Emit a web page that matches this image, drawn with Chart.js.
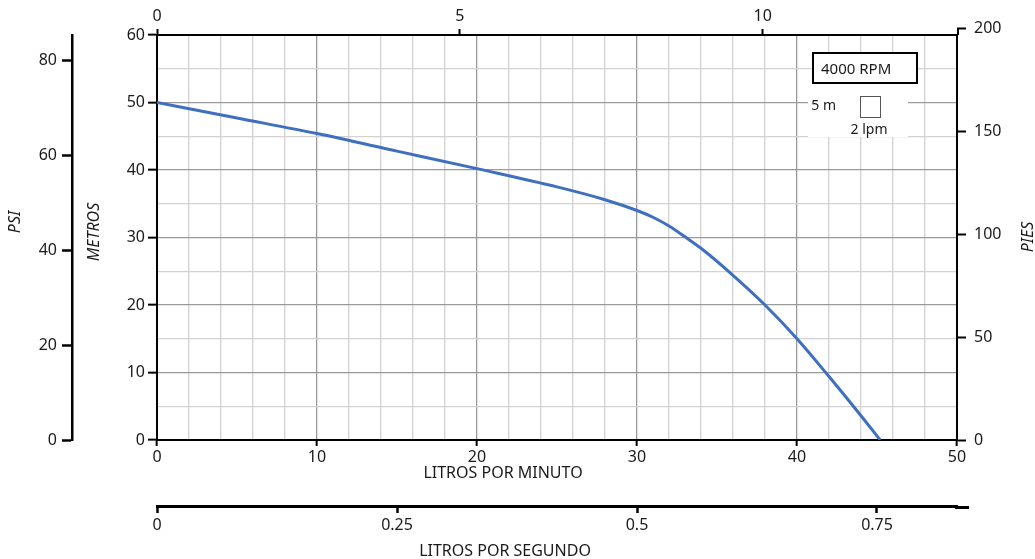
<!DOCTYPE html>
<html>
<head>
<meta charset="utf-8">
<script src="https://cdn.jsdelivr.net/npm/chart.js@4.4.1/dist/chart.umd.min.js"></script>
<style>
  html, body { margin: 0; padding: 0; background: #fff; }
  #wrap { width: 1035px; height: 559px; }
</style>
</head>
<body>
<div id="wrap"><canvas id="pumpChart" width="1035" height="559"></canvas></div>
<script>
// curve data: flow in l/min, head in metres
const flowLpm = [0, 5, 10, 15, 20, 25, 28, 30, 31, 32, 33, 34, 36, 38, 40, 42, 44, 45.2];
const headM   = [50, 47.7, 45.4, 42.8, 40.2, 37.5, 35.6, 34.0, 33.0, 31.7, 30.1, 28.4, 24.4, 20.0, 15.0, 9.4, 3.6, 0];

// axis ranges / labels
const lpmMax = 50;
const metresMax = 60;
const legendText = "4000 RPM";
const gridHeightText = "5 m";
const gridWidthText = "2 lpm";

// unit conversions for the secondary axes
const LPM_PER_GPM = 3.78541;
const M_PER_PSI = 0.70307;
const M_PER_FT = 0.3048;

const TEXT = "#1a1a1a";
const FONT = "'Noto Sans', sans-serif";
const CLEAR = "rgba(0,0,0,0)";

Chart.defaults.font.family = FONT;
Chart.defaults.font.size = 16;
Chart.defaults.color = TEXT;

const label = v => String(v);

// EXTRA DRAWING (titles, legend box, 200 ft tick)
const extras = {
  id: "extras",
  afterDraw(chart) {
    const ctx = chart.ctx;
    const a = chart.chartArea;
    const s = chart.scales;
    ctx.save();

    // right axis: 200 ft sits just above the frame
    const y200 = s.y3.getPixelForValue(200);
    ctx.strokeStyle = "#000";
    ctx.lineWidth = 2;
    ctx.beginPath();
    ctx.moveTo(a.right + 1, a.top);
    ctx.lineTo(a.right + 1, y200);
    ctx.moveTo(a.right, y200);
    ctx.lineTo(a.right + 9, y200);
    ctx.stroke();
    ctx.fillStyle = TEXT;
    ctx.font = "16px " + FONT;
    ctx.textAlign = "left";
    ctx.textBaseline = "middle";
    ctx.fillText("200", a.right + 17, y200);

    // l/s axis line runs a bit past the frame
    const lpsY = s.x3.top + 1.5;
    ctx.lineWidth = 3;
    ctx.beginPath();
    ctx.moveTo(a.right - 2, lpsY);
    ctx.lineTo(a.right + 12, lpsY);
    ctx.stroke();

    // axis titles
    ctx.font = "16px " + FONT;
    ctx.textAlign = "center";
    ctx.textBaseline = "middle";
    ctx.fillText("LITROS POR MINUTO", a.left + 346, a.bottom + 33);
    ctx.fillText("LITROS POR SEGUNDO", a.left + 348, a.bottom + 111);

    ctx.font = "italic 16px " + FONT;
    const vTitle = (txt, x, y) => {
      ctx.save();
      ctx.translate(x, y);
      ctx.rotate(-Math.PI / 2);
      ctx.fillText(txt, 0, 0);
      ctx.restore();
    };
    vTitle("PSI", a.left - 142, 222);
    vTitle("METROS", a.left - 63, 232);
    vTitle("PIES", a.right + 71, 237);

    // legend box
    const ox = a.right, oy = a.top;
    ctx.fillStyle = "#fff";
    ctx.fillRect(ox - 149, oy + 49, 100, 53);
    ctx.fillRect(ox - 144, oy + 18, 104, 30);
    ctx.strokeStyle = "#000";
    ctx.lineWidth = 2;
    ctx.strokeRect(ox - 144, oy + 18, 104, 30);
    ctx.fillStyle = TEXT;
    ctx.font = "15px " + FONT;
    ctx.textAlign = "left";
    ctx.fillText(legendText, ox - 136, oy + 35);

    ctx.font = "14px " + FONT;
    ctx.textAlign = "right";
    ctx.fillText(gridHeightText, ox - 121, oy + 71);
    ctx.strokeStyle = "#555";
    ctx.lineWidth = 1;
    ctx.strokeRect(ox - 96.5, oy + 61.5, 20, 21);
    ctx.textAlign = "center";
    ctx.fillText(gridWidthText, ox - 88, oy + 95);

    ctx.restore();
  }
};

new Chart(document.getElementById("pumpChart"), {
  type: "scatter",
  data: {
    datasets: [{
      data: flowLpm.map((f, i) => ({ x: f, y: headM[i] })),
      showLine: true,
      borderColor: "#3f6fbf",
      borderWidth: 3,
      pointRadius: 0,
      cubicInterpolationMode: "monotone",
      xAxisID: "x",
      yAxisID: "y"
    }]
  },
  options: {
    responsive: false,
    animation: false,
    layout: { padding: 0 },
    plugins: { legend: { display: false }, tooltip: { enabled: false } },
    scales: {
      x: {
        type: "linear", position: "bottom", weight: 0,
        min: 0, max: lpmMax,
        ticks: { stepSize: 2, autoSkip: false, maxRotation: 0, padding: 2,
          callback: v => v % 10 === 0 ? label(v) : "" },
        grid: {
          color: c => (c.tick.value === 0 || c.tick.value === lpmMax) ? CLEAR : (c.tick.value % 10 === 0 ? "#9a9a9a" : "#d2d2d2"),
          lineWidth: 1.3, tickLength: 6, tickWidth: 2,
          tickColor: c => c.tick.value % 10 === 0 ? "#000" : CLEAR
        },
        border: { color: "#000", width: 2 },
        afterFit: sc => { sc.height = 66; }
      },
      x3: {
        type: "linear", position: "bottom", weight: 1,
        min: 0, max: lpmMax / 60,
        ticks: { stepSize: 0.25, includeBounds: false, padding: 3, maxRotation: 0, callback: label },
        grid: { drawOnChartArea: false, tickLength: 7, tickColor: "#000", tickWidth: 2.5 },
        border: { color: "#000", width: 3 },
        afterFit: sc => { sc.height = 53; }
      },
      x2: {
        type: "linear", position: "top",
        min: 0, max: lpmMax / LPM_PER_GPM,
        ticks: { stepSize: 5, includeBounds: false, padding: 3, maxRotation: 0, callback: label },
        grid: { drawOnChartArea: false, tickLength: 6, tickColor: "#000", tickWidth: 2 },
        border: { color: "#000", width: 2 },
        afterFit: sc => { sc.height = 35; }
      },
      y: {
        type: "linear", position: "left", weight: 0,
        min: 0, max: metresMax,
        ticks: { stepSize: 5, autoSkip: false, padding: 3,
          callback: v => v % 10 === 0 ? label(v) : "" },
        grid: {
          color: c => (c.tick.value === 0 || c.tick.value === metresMax) ? CLEAR : (c.tick.value % 10 === 0 ? "#9a9a9a" : "#d2d2d2"),
          lineWidth: 1.3, tickLength: 9, tickWidth: 2,
          tickColor: c => c.tick.value % 10 === 0 ? "#000" : CLEAR
        },
        border: { color: "#000", width: 2 },
        afterFit: sc => { sc.width = 85; }
      },
      y2: {
        type: "linear", position: "left", weight: 1,
        min: 0, max: metresMax / M_PER_PSI,
        ticks: { stepSize: 20, includeBounds: false, padding: 5, callback: label },
        grid: { drawOnChartArea: false, tickLength: 10, tickColor: "#000", tickWidth: 2.5 },
        border: { color: "#000", width: 2.5 },
        afterFit: sc => { sc.width = 72; }
      },
      y3: {
        type: "linear", position: "right",
        min: 0, max: metresMax / M_PER_FT,
        ticks: { stepSize: 50, includeBounds: false, padding: 8, callback: label },
        grid: { drawOnChartArea: false, tickLength: 9, tickColor: "#000", tickWidth: 2 },
        border: { color: "#000", width: 2 },
        afterFit: sc => { sc.width = 78; }
      }
    }
  },
  plugins: [extras]
});
</script>
</body>
</html>
